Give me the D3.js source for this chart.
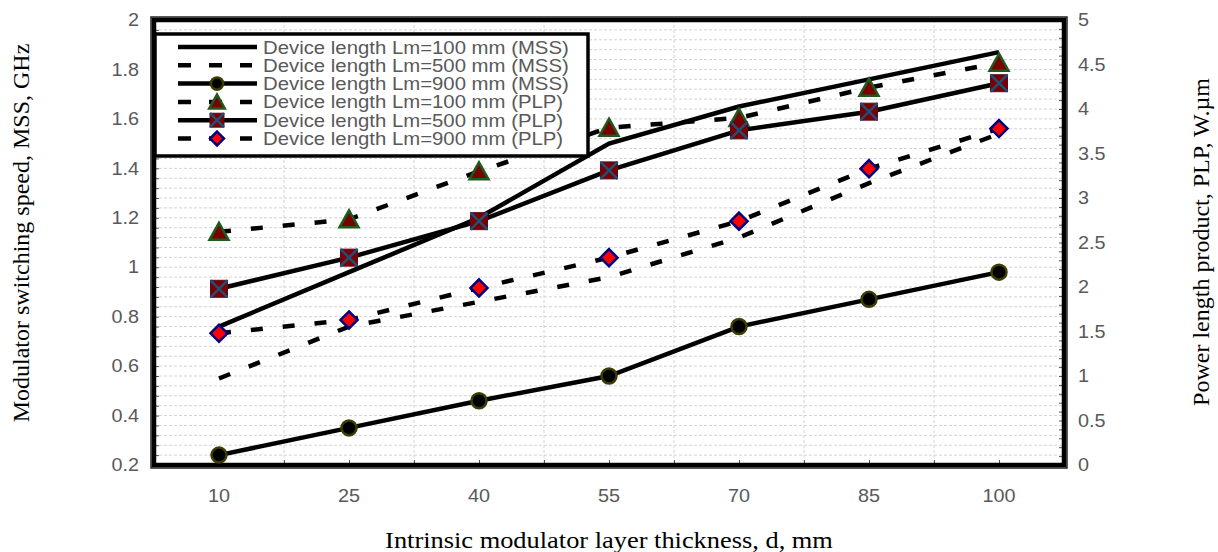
<!DOCTYPE html>
<html lang="en">
<head>
    <meta charset="UTF-8">
    <title>MSS and PLP vs intrinsic layer thickness</title>
    <script type="text/javascript" src="https://cdn.jsdelivr.net/npm/d3@7"></script>
    <style type="text/css">
        body { margin: 0; background: white; }
        .tick-label { font-family: "Liberation Sans", Arial, sans-serif; font-size: 18px; fill: #595959; }
        .axis-title { font-family: "Liberation Serif", "Times New Roman", serif; font-size: 24px; fill: black; }
        .legend-text { font-family: "Liberation Sans", Arial, sans-serif; font-size: 18.5px; fill: #595959; }
    </style>
</head>
<body>
    <script type="text/javascript">
        // categories on the x axis (d, mm)
        var thickness = ["10", "25", "40", "55", "70", "85", "100"];

        // MSS series, GHz (left axis)
        var mss100 = [0.76, 0.98, 1.20, 1.50, 1.65, 1.76, 1.87];
        var mss500 = [0.55, 0.76, 0.86, 0.96, 1.12, 1.34, 1.54];
        var mss900 = [0.24, 0.35, 0.46, 0.56, 0.76, 0.87, 0.98];

        // PLP series, W.um (right axis)
        var plp100 = [2.62, 2.76, 3.30, 3.79, 3.90, 4.24, 4.52];
        var plp500 = [1.98, 2.33, 2.74, 3.31, 3.76, 3.97, 4.29];
        var plp900 = [1.48, 1.63, 1.99, 2.33, 2.74, 3.33, 3.78];

        var leftTicks = [0.2, 0.4, 0.6, 0.8, 1, 1.2, 1.4, 1.6, 1.8, 2];
        var rightTicks = [0, 0.5, 1, 1.5, 2, 2.5, 3, 3.5, 4, 4.5, 5];

        var legendLabels = [
            "Device length Lm=100 mm (MSS)",
            "Device length Lm=500 mm (MSS)",
            "Device length Lm=900 mm (MSS)",
            "Device length Lm=100 mm (PLP)",
            "Device length Lm=500 mm (PLP)",
            "Device length Lm=900 mm (PLP)"
        ];

        var width = 1218;
        var height = 552;
        var pLeft = 154, pRight = 1064, pTop = 20, pBottom = 465;
        var stretch = 1.1;   // the original picture is a bit wider than tall
        var dash = "12,20";

        var series = [
            {name: legendLabels[0], values: mss100, axis: "left", dashed: false, marker: null},
            {name: legendLabels[1], values: mss500, axis: "left", dashed: true, marker: null},
            {name: legendLabels[2], values: mss900, axis: "left", dashed: false, marker: "circle"},
            {name: legendLabels[3], values: plp100, axis: "right", dashed: true, marker: "triangle"},
            {name: legendLabels[4], values: plp500, axis: "right", dashed: false, marker: "square"},
            {name: legendLabels[5], values: plp900, axis: "right", dashed: true, marker: "diamond"}
        ];

        var x = d3.scaleBand().domain(thickness).range([pLeft, pRight]);
        var yLeft = d3.scaleLinear().domain([0.2, 2]).range([pBottom, pTop]);
        var yRight = d3.scaleLinear().domain([0, 5]).range([pBottom, pTop]);
        var cx = function (d) { return x(d) + x.bandwidth() / 2 };

        var svg = d3.select('body')
            .append('svg')
            .attr('width', width)
            .attr('height', height);

        // grid
        var grid = svg.append('g').attr('id', 'grid');
        grid.selectAll('line.h')
            .data(d3.range(0.24, 1.99, 0.04))
            .enter()
            .append('line')
            .attr('class', 'h')
            .attr('x1', pLeft).attr('x2', pRight)
            .attr('y1', function (d) { return yLeft(d) })
            .attr('y2', function (d) { return yLeft(d) })
            .attr('stroke', '#d3d3d3')
            .attr('stroke-dasharray', '3,2')
            .attr('stroke-width', 1);
        grid.selectAll('line.v')
            .data(thickness.slice(1))
            .enter()
            .append('line')
            .attr('class', 'v')
            .attr('x1', function (d) { return x(d) })
            .attr('x2', function (d) { return x(d) })
            .attr('y1', pTop).attr('y2', pBottom)
            .attr('stroke', '#d3d3d3')
            .attr('stroke-dasharray', '3,2')
            .attr('stroke-width', 1);

        // inner tick marks
        var tickStyle = function (g) {
            g.select('.domain').remove();
            g.selectAll('line').attr('stroke', '#555').attr('stroke-width', 1);
        };
        svg.append('g')
            .attr('transform', `translate(${pLeft}, 0)`)
            .call(d3.axisLeft(yLeft).tickValues(d3.range(0.2, 2.001, 0.04)).tickSize(-5).tickFormat(''))
            .call(tickStyle);
        svg.append('g')
            .attr('transform', `translate(${pRight}, 0)`)
            .call(d3.axisRight(yRight).tickValues(d3.range(0, 5.001, 0.1)).tickSize(-5).tickFormat(''))
            .call(tickStyle);
        var bottomTicks = d3.scaleLinear().domain([0, 14]).range([pLeft, pRight]);
        svg.append('g')
            .attr('transform', `translate(0, ${pBottom})`)
            .call(d3.axisBottom(bottomTicks).tickValues(d3.range(1, 14)).tickSize(-5).tickFormat(''))
            .call(tickStyle);

        // frame
        svg.append('rect')
            .attr('x', pLeft - 3).attr('y', pTop - 3)
            .attr('width', pRight - pLeft + 6).attr('height', pBottom - pTop + 6)
            .attr('fill', 'none').attr('stroke', '#222').attr('stroke-width', 1.5);
        svg.append('rect')
            .attr('x', pLeft).attr('y', pTop)
            .attr('width', pRight - pLeft).attr('height', pBottom - pTop)
            .attr('fill', 'none').attr('stroke', 'black').attr('stroke-width', 4.5);

        // tick labels
        var labelStyle = function (g) {
            g.select('.domain').remove();
            g.selectAll('line').remove();
            g.selectAll('text')
                .attr('class', 'tick-label')
                .attr('font-size', null)
                .attr('font-family', null)
                .attr('transform', `scale(${stretch},1)`);
        };
        svg.append('g')
            .attr('transform', `translate(${pLeft}, 0)`)
            .call(d3.axisLeft(yLeft).tickValues(leftTicks).tickSize(0).tickPadding(13.6).tickFormat(d3.format('')))
            .call(labelStyle);
        svg.append('g')
            .attr('transform', `translate(${pRight}, 0)`)
            .call(d3.axisRight(yRight).tickValues(rightTicks).tickSize(0).tickPadding(12.7).tickFormat(d3.format('')))
            .call(labelStyle);
        svg.append('g')
            .attr('transform', `translate(0, ${pBottom})`)
            .call(d3.axisBottom(x).tickSize(0).tickPadding(24))
            .call(labelStyle);

        // axis titles
        svg.append('text')
            .attr('class', 'axis-title')
            .attr('text-anchor', 'middle')
            .attr('transform', `translate(${609}, ${548}) scale(${stretch},1)`)
            .text('Intrinsic modulator layer thickness, d, mm');
        svg.append('text')
            .attr('class', 'axis-title')
            .attr('text-anchor', 'middle')
            .attr('transform', `translate(${29}, ${233}) rotate(-90)`)
            .text('Modulator switching speed, MSS, GHz');
        svg.append('text')
            .attr('class', 'axis-title')
            .attr('text-anchor', 'middle')
            .attr('transform', `translate(${1209}, ${242}) rotate(-90)`)
            .text('Power length product, PLP, W.\u00b5m');

        // markers
        var drawMarker = function (g, type, s) {
            if (type === 'circle') {
                g.append('circle').attr('r', 7.5 * s)
                    .attr('fill', 'black').attr('stroke', '#3d3d00').attr('stroke-width', 2.5);
            } else if (type === 'triangle') {
                g.append('path')
                    .attr('d', `M0,${-9 * s}L${9.5 * s},${8 * s}L${-9.5 * s},${8 * s}Z`)
                    .attr('fill', '#7a0000').attr('stroke', '#1e5a1e').attr('stroke-width', 2.5);
            } else if (type === 'square') {
                var h = 8.5 * s;
                g.append('rect').attr('x', -h).attr('y', -h).attr('width', 2 * h).attr('height', 2 * h)
                    .attr('fill', '#7a0000').attr('stroke', '#5a0a20').attr('stroke-width', 1);
                g.append('path')
                    .attr('d', `M${-h},${-h}L${h},${h}M${h},${-h}L${-h},${h}`)
                    .attr('stroke', '#1f4e79').attr('stroke-width', 2.5);
            } else if (type === 'diamond') {
                var r = 8.5 * s;
                g.append('path')
                    .attr('d', `M0,${-r}L${r},0L0,${r}L${-r},0Z`)
                    .attr('fill', '#ff0000').attr('stroke', '#000080').attr('stroke-width', 2.5);
            }
        };

        var plot = svg.append('g').attr('id', 'series');
        series.forEach(function (s) {
            var y = s.axis === 'left' ? yLeft : yRight;
            var line = d3.line()
                .x(function (d, i) { return cx(thickness[i]) })
                .y(function (d) { return y(d) });
            plot.append('path')
                .datum(s.values)
                .attr('d', line)
                .attr('fill', 'none')
                .attr('stroke', 'black')
                .attr('stroke-width', 4.5)
                .attr('stroke-dasharray', s.dashed ? dash : null);
        });
        series.forEach(function (s) {
            if (!s.marker) { return }
            var y = s.axis === 'left' ? yLeft : yRight;
            s.values.forEach(function (v, i) {
                var g = plot.append('g')
                    .attr('transform', `translate(${cx(thickness[i])}, ${y(v)})`);
                drawMarker(g, s.marker, 1);
            });
        });

        // legend
        var legend = svg.append('g').attr('id', 'legend');
        legend.append('rect')
            .attr('x', 155).attr('y', 34)
            .attr('width', 433).attr('height', 122)
            .attr('fill', 'white').attr('stroke', 'black').attr('stroke-width', 3.5);
        series.forEach(function (s, i) {
            var ly = 47 + i * 18.3;
            legend.append('line')
                .attr('x1', 178).attr('x2', s.dashed ? 252 : 257)
                .attr('y1', ly).attr('y2', ly)
                .attr('stroke', 'black').attr('stroke-width', 4.5)
                .attr('stroke-dasharray', s.dashed ? '13,18' : null);
            if (s.marker) {
                var g = legend.append('g').attr('transform', `translate(217, ${ly})`);
                drawMarker(g, s.marker, 0.82);
            }
            legend.append('text')
                .attr('class', 'legend-text')
                .attr('transform', `translate(263, ${ly + 6.5}) scale(${stretch},1)`)
                .text(s.name);
        });
    </script>
</body>
</html>
